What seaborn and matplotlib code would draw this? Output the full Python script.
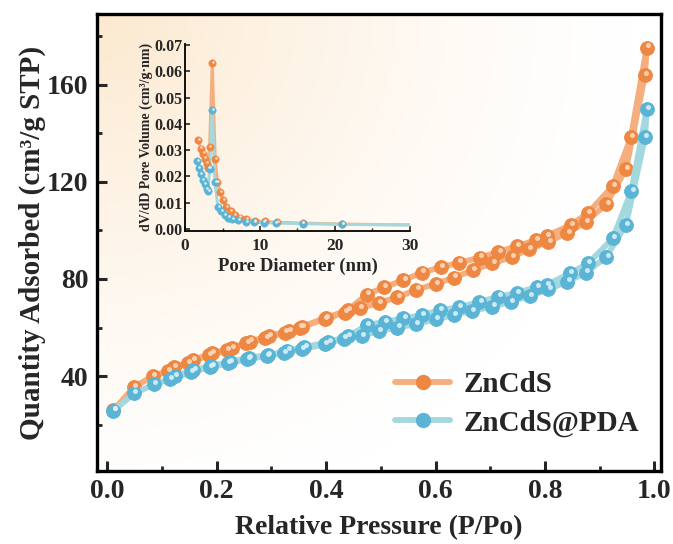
import numpy as np
import pandas as pd
import matplotlib
matplotlib.use("Agg")
import matplotlib.pyplot as plt
import matplotlib.transforms as mtransforms
from matplotlib.lines import Line2D
import seaborn as sns

# ---- N2 isotherm, ZnCdS (adsorption then desorption) ----
zncds_ads_p = [0.011, 0.049, 0.083, 0.110, 0.147, 0.186, 0.219, 0.254, 0.289, 0.324,
               0.352, 0.398, 0.434, 0.461, 0.497, 0.530, 0.565, 0.600, 0.634, 0.668,
               0.704, 0.739, 0.771, 0.806, 0.841, 0.875, 0.912, 0.948, 0.983, 0.986]
zncds_ads_v = [26.0, 35.6, 40.0, 42.1, 45.5, 48.7, 50.7, 53.5, 55.6, 57.9,
               60.0, 63.6, 66.2, 67.9, 70.2, 72.5, 75.6, 78.0, 80.6, 83.6,
               86.4, 89.1, 92.2, 95.3, 99.0, 103.5, 110.8, 125.1, 164.0, 175.2]
zncds_des_p = [0.957, 0.924, 0.879, 0.847, 0.803, 0.784, 0.748, 0.715, 0.681, 0.643,
               0.609, 0.575, 0.541, 0.505, 0.474, 0.440, 0.400, 0.355, 0.332, 0.295,
               0.260, 0.227, 0.191, 0.156, 0.122]
zncds_des_v = [138.3, 118.3, 107.2, 102.2, 97.7, 96.0, 93.5, 91.2, 88.8, 86.7,
               84.8, 82.6, 79.5, 76.5, 73.6, 67.2, 64.0, 60.3, 58.7, 56.5,
               54.2, 51.7, 49.4, 46.6, 43.6]

# ---- N2 isotherm, ZnCdS@PDA ----
pda_ads_p = [0.011, 0.049, 0.085, 0.114, 0.152, 0.187, 0.220, 0.256, 0.291, 0.323,
             0.355, 0.398, 0.432, 0.465, 0.497, 0.530, 0.564, 0.600, 0.633, 0.667,
             0.704, 0.737, 0.772, 0.806, 0.841, 0.875, 0.912, 0.948, 0.983, 0.986]
pda_ads_v = [25.8, 32.9, 36.6, 38.7, 41.6, 43.6, 45.3, 47.0, 48.3, 49.6,
             51.0, 53.2, 55.5, 56.6, 58.6, 60.0, 61.4, 63.4, 65.1, 66.9,
             68.6, 70.6, 73.0, 75.7, 78.9, 82.6, 89.1, 102.2, 138.5, 149.8]
pda_des_p = [0.958, 0.924, 0.879, 0.845, 0.803, 0.785, 0.749, 0.715, 0.680, 0.643,
             0.608, 0.575, 0.541, 0.507, 0.475, 0.440, 0.404, 0.360, 0.329, 0.294,
             0.258, 0.224, 0.190, 0.157, 0.123]
pda_des_v = [116.3, 96.7, 86.4, 82.3, 77.5, 76.8, 74.3, 72.7, 70.6, 68.3,
             67.2, 65.1, 63.8, 62.4, 61.0, 56.5, 54.0, 52.0, 50.5, 48.7,
             47.6, 45.9, 44.2, 42.5, 40.0]

# ---- BJH pore size distribution ----
zncds_pore_d = [1.73, 2.09, 2.39, 2.62, 2.88, 3.05, 3.28, 3.63, 4.03, 4.30, 4.65,
                5.05, 5.49, 6.08, 6.61, 7.27, 8.15, 9.30, 10.6, 12.3, 15.7, 21.0]
zncds_pore_v = [0.0337, 0.0306, 0.0287, 0.0268, 0.0249, 0.0233, 0.0312, 0.0631,
                0.0266, 0.0180, 0.0142, 0.0111, 0.0085, 0.0067, 0.0054, 0.0044,
                0.0039, 0.0031, 0.0029, 0.0026, 0.0023, 0.0019]
pda_pore_d = [1.64, 1.82, 2.09, 2.35, 2.62, 2.88, 3.05, 3.28, 3.63, 3.99, 4.39,
              4.83, 5.28, 5.72, 6.25, 7.05, 8.15, 9.20, 10.5, 12.1, 15.7, 21.0]
pda_pore_v = [0.0258, 0.0233, 0.0208, 0.0186, 0.0170, 0.0152, 0.0145, 0.0230,
              0.0452, 0.0178, 0.0085, 0.0069, 0.0054, 0.0044, 0.0039, 0.0033,
              0.0028, 0.0026, 0.0025, 0.0023, 0.0021, 0.0018]
# tail of the distribution beyond the last measured point
tail_d = [30.0]
zncds_tail_v = [0.0016]
pda_tail_v = [0.0016]

labels = ["ZnCdS", "ZnCdS@PDA"]
line_colors = ["#F5AE7E", "#A3D8DF"]
marker_colors = ["#EE8742", "#5AB4D6"]
shine_colors = ["#FCD9BF", "#D9F1FA"]

sns.set_theme(style="ticks")
plt.rcParams["font.family"] = ["Liberation Serif", "DejaVu Serif"]
plt.rcParams["font.weight"] = "bold"
plt.rcParams["axes.labelweight"] = "bold"

fig = plt.figure(figsize=(6.73, 5.44), dpi=100)
ax = fig.add_axes([0.1441, 0.1342, 0.838, 0.840])

# warm glow in the upper-left corner of the plotting area
gx, gy = np.meshgrid(np.linspace(0, 1, 300), np.linspace(0, 1, 300))
dist = np.sqrt((gx * 1.0) ** 2 + ((1 - gy) * 0.85) ** 2)
w = np.clip(1 - dist / 0.95, 0, 1) ** 1.4
corner = np.array([252, 233, 207]) / 255.0
img = np.ones((300, 300, 3)) * (1 - w[..., None]) + corner * w[..., None]
ax.imshow(img, extent=[0, 1, 0, 1], transform=ax.transAxes, origin="lower",
          aspect="auto", zorder=0, interpolation="bilinear")


def draw_series(axis, x, y, color, mcolor, scolor, lw, ms, shine_ms, shine_dx, shine_dy, label=None):
    df = pd.DataFrame({"x": x, "y": y})
    sns.lineplot(data=df, x="x", y="y", ax=axis, sort=False, color=color, lw=lw,
                 marker="o", markersize=ms, markerfacecolor=mcolor,
                 markeredgecolor=mcolor, markeredgewidth=0.6, label=label,
                 legend=False, zorder=3)
    shine = mtransforms.offset_copy(axis.transData, fig=fig, x=shine_dx, y=shine_dy, units="points")
    axis.plot(x, y, ls="none", marker="o", markersize=shine_ms, color=scolor,
              markeredgewidth=0, alpha=0.9, transform=shine, zorder=4, clip_on=True)


series = [
    (zncds_ads_p + zncds_des_p, zncds_ads_v + zncds_des_v),
    (pda_ads_p + pda_des_p, pda_ads_v + pda_des_v),
]
for i, (px, pv) in enumerate(series):
    draw_series(ax, px, pv, line_colors[i], marker_colors[i], shine_colors[i],
                lw=4.2, ms=10, shine_ms=3.6, shine_dx=0.9, shine_dy=1.6)

ax.set_xlim(-0.019, 1.012)
ax.set_ylim(1, 189)
ax.set_xticks(np.arange(0, 1.01, 0.2))
ax.set_xticks(np.arange(0.1, 1.0, 0.2), minor=True)
ax.set_yticks([40, 80, 120, 160])
ax.set_yticks([20, 60, 100, 140, 180], minor=True)
ax.xaxis.set_major_formatter(matplotlib.ticker.FormatStrFormatter("%.1f"))
ax.tick_params(which="major", direction="in", length=7, width=2.2, labelsize=20, pad=6)
ax.tick_params(which="minor", direction="in", length=3.5, width=2.0)
for s in ax.spines.values():
    s.set_linewidth(2.4)
    s.set_color("black")
ax.set_xlabel("Relative Pressure (P/Po)", fontsize=20, fontweight="bold", labelpad=8)
ax.set_ylabel("Quantity Adsorbed (cm³/g STP)", fontsize=21, fontweight="bold", labelpad=1)

handles = [Line2D([], [], color=line_colors[i], lw=4.2, marker="o", markersize=10,
                  markerfacecolor=marker_colors[i], markeredgecolor=marker_colors[i])
           for i in range(2)]
ax.legend(handles, labels, loc="lower right", bbox_to_anchor=(1.008, 0.018), frameon=False,
          prop={"family": "Liberation Serif", "weight": "bold", "size": 21},
          handlelength=1.9, handletextpad=0.45, labelspacing=0.38)

# ---- inset: pore size distribution ----
ins = fig.add_axes([0.2749, 0.5759, 0.3343, 0.344])
ins.set_facecolor("none")
pore = [
    (zncds_pore_d + tail_d, zncds_pore_v + zncds_tail_v),
    (pda_pore_d + tail_d, pda_pore_v + pda_tail_v),
]
for i, (dd, vv) in enumerate(pore):
    df = pd.DataFrame({"x": dd, "y": vv})
    sns.lineplot(data=df, x="x", y="y", ax=ins, sort=False, color=line_colors[i], lw=2.2,
                 legend=False, zorder=3)
    n = len(dd) - 1
    sns.scatterplot(x=dd[:n], y=vv[:n], ax=ins, color=marker_colors[i], s=28,
                    edgecolor=marker_colors[i], linewidth=0.4, zorder=4, legend=False)
    shine = mtransforms.offset_copy(ins.transData, fig=fig, x=0.5, y=0.8, units="points")
    ins.plot(dd[:n], vv[:n], ls="none", marker="o", markersize=1.9, color=shine_colors[i],
             markeredgewidth=0, transform=shine, zorder=5)

ins.set_xlim(0, 30)
ins.set_ylim(-0.0006, 0.0705)
ins.set_xticks([0, 10, 20, 30])
ins.set_xticks([5, 15, 25], minor=True)
ins.set_yticks(np.arange(0, 0.071, 0.01))
ins.yaxis.set_major_formatter(matplotlib.ticker.FormatStrFormatter("%.2f"))
ins.spines["top"].set_visible(False)
ins.spines["right"].set_visible(False)
for s in ("left", "bottom"):
    ins.spines[s].set_linewidth(1.3)
    ins.spines[s].set_color("black")
ins.tick_params(axis="x", which="major", direction="in", length=3.5, width=1.2, labelsize=12.5, pad=5)
ins.tick_params(axis="y", which="major", direction="in", length=3.5, width=1.2, labelsize=11.5, pad=2)
ins.tick_params(which="minor", direction="in", length=2, width=1.0)
ins.set_xlabel("Pore Diameter (nm)", fontsize=13.5, fontweight="bold", labelpad=3)
ins.set_ylabel("dV/dD Pore Volume (cm³/g·nm)", fontsize=10, fontweight="bold", labelpad=1)

fig.savefig("out.png", dpi=100)
